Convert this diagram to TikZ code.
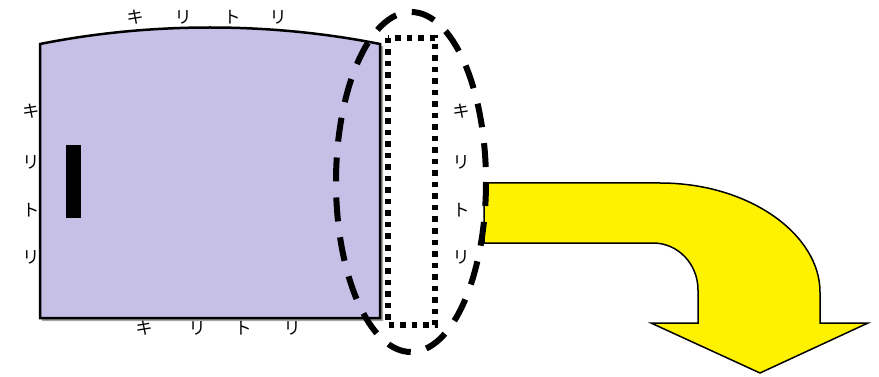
\documentclass[tikz,border=0pt]{standalone}
\usepackage{fontspec}
\newfontfamily\jpfont{Noto Sans CJK JP}
\definecolor{lavender}{RGB}{198,191,230}

\tikzset{
  cutlabel/.style={font=\jpfont\fontsize{17}{19}\selectfont, inner sep=0pt},
  cutline/.style={line width=5.5pt, dash pattern=on 5.5pt off 6pt},
  foldline/.style={line width=6pt, dash pattern=on 24pt off 16pt}
}

\begin{document}
\begin{tikzpicture}[x=1pt, y=-1pt]
            \useasboundingbox (0,0) rectangle (879,377);

            % card
            \fill[gray!70] (42,46) .. controls (152,24) and (272,24) .. (383,46) -- (383,321) -- (42,321) -- cycle;
            \draw[fill=lavender, line width=2.5pt] (40,44) .. controls (150,22) and (270,22) .. (380,44) -- (380,318) -- (40,318) -- cycle;
            \fill (66,145) rectangle (81,218);

            % cut strip
            \draw[cutline] (388,38) rectangle (435,325);

            % arrow
            \draw[fill=yellow, line width=1.5pt] (484,183) -- (660,183) .. controls (750,183) and (820,235) .. (820,292)
                -- (820,323) -- (868,323) -- (760,373) -- (651,323) -- (698,323) -- (698,290)
                .. controls (698,264) and (678,243) .. (653,243) -- (484,243) -- cycle;

            % fold mark
            \draw[foldline] (411,182) circle[x radius=75, y radius=170];

            % notation
            \node[cutlabel] (t1) at (135,17) {キ};
            \node[cutlabel] (t2) at (183,17) {リ};
            \node[cutlabel] (t3) at (232,17) {ト};
            \node[cutlabel] (t4) at (278,17) {リ};

            \node[cutlabel] (l1) at (31,111) {キ};
            \node[cutlabel] (l2) at (31,162) {リ};
            \node[cutlabel] (l3) at (31,210) {ト};
            \node[cutlabel] (l4) at (31,257) {リ};

            \node[cutlabel] (b1) at (144,328) {キ};
            \node[cutlabel] (b2) at (197,328) {リ};
            \node[cutlabel] (b3) at (243,328) {ト};
            \node[cutlabel] (b4) at (292,328) {リ};

            \node[cutlabel] (r1) at (461,111) {キ};
            \node[cutlabel] (r2) at (461,162) {リ};
            \node[cutlabel] (r3) at (461,210) {ト};
            \node[cutlabel] (r4) at (461,257) {リ};
\end{tikzpicture}
\end{document}
